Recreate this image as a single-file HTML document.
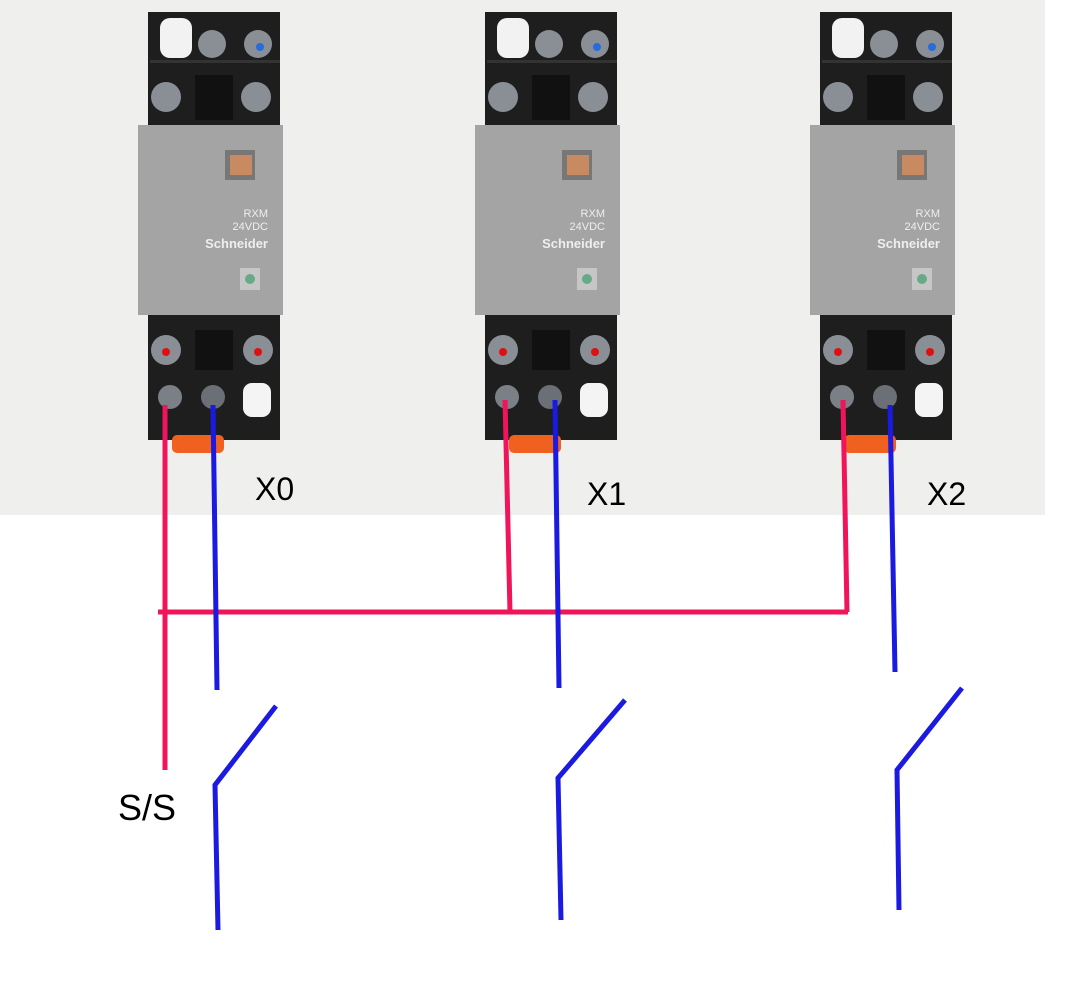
<!DOCTYPE html>
<html><head><style>
body{margin:0;background:#fff;}
svg{display:block;}
text{font-family:"Liberation Sans",sans-serif;}
</style></head><body>
<svg width="1079" height="984" viewBox="0 0 1079 984">
<defs>
<g id="relay">
  <rect x="148" y="12" width="132" height="428" fill="#1e1e1e"/>
  <rect x="150" y="60" width="130" height="3" fill="#333"/>
  <rect x="160" y="18" width="32" height="40" rx="10" fill="#f2f2f2"/>
  <circle cx="212" cy="44" r="14" fill="#8a8f96"/>
  <circle cx="258" cy="44" r="14" fill="#8a8f96"/>
  <circle cx="260" cy="47" r="4" fill="#2a6ae0"/>
  <circle cx="166" cy="97" r="15" fill="#8a8f96"/>
  <circle cx="256" cy="97" r="15" fill="#8a8f96"/>
  <rect x="195" y="75" width="38" height="45" fill="#111"/>
  <rect x="138" y="125" width="145" height="190" fill="#a4a4a4"/>
  <rect x="225" y="150" width="30" height="30" fill="#777"/>
  <rect x="230" y="155" width="22" height="20" fill="#c88a60"/>
  <text x="268" y="217" font-size="11" fill="#eee" text-anchor="end">RXM</text>
  <text x="268" y="230" font-size="11" fill="#eee" text-anchor="end">24VDC</text>
  <text x="268" y="248" font-size="13" font-weight="bold" fill="#eee" text-anchor="end">Schneider</text>
  <rect x="240" y="268" width="20" height="22" fill="#c6c6c6"/>
  <circle cx="250" cy="279" r="5" fill="#6a8"/>
  <circle cx="166" cy="350" r="15" fill="#8a8f96"/>
  <circle cx="166" cy="352" r="4" fill="#e01010"/>
  <circle cx="258" cy="350" r="15" fill="#8a8f96"/>
  <circle cx="258" cy="352" r="4" fill="#e01010"/>
  <rect x="195" y="330" width="38" height="40" fill="#111"/>
  <circle cx="170" cy="397" r="12" fill="#7b7f86"/>
  <circle cx="213" cy="397" r="12" fill="#6b6f76"/>
  <rect x="243" y="383" width="28" height="34" rx="9" fill="#f4f4f4"/>
  <rect x="172" y="435" width="52" height="18" rx="5" fill="#f0601e"/>
</g>
</defs>
<rect x="0" y="0" width="1045" height="515" fill="#efefed"/>
<use href="#relay"/>
<use href="#relay" x="337"/>
<use href="#relay" x="672"/>
<g fill="none" stroke-width="5" stroke-linecap="butt">
  <path d="M165 405 L165 770" stroke="#f0145a"/>
  <path d="M505 400 L510 612" stroke="#f0145a"/>
  <path d="M843 400 L847 612" stroke="#f0145a"/>
  <path d="M158 612 L848 612" stroke="#f0145a"/>
  <path d="M213 405 L217 690" stroke="#1a1ae0"/>
  <path d="M555 400 L559 688" stroke="#1a1ae0"/>
  <path d="M890 405 L895 672" stroke="#1a1ae0"/>
  <path d="M276 706 L215 785 L218 930" stroke="#1a1ae0"/>
  <path d="M625 700 L558 778 L561 920" stroke="#1a1ae0"/>
  <path d="M962 688 L897 770 L899 910" stroke="#1a1ae0"/>
</g>
<text x="255" y="500" font-size="32" fill="#000">X0</text>
<text x="587" y="505" font-size="32" fill="#000">X1</text>
<text x="927" y="505" font-size="32" fill="#000">X2</text>
<text x="118" y="820" font-size="36" fill="#000">S/S</text>
</svg>
</body></html>
